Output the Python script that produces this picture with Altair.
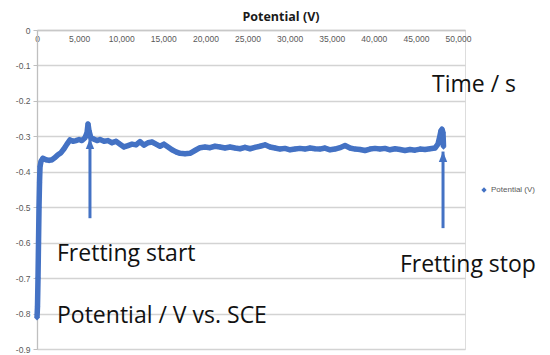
import altair as alt
import pandas as pd

# ---- data ----
time_s = [0, 60, 120, 180, 240, 300, 360, 480, 700, 1070, 1430, 1780, 2140, 2490,
          2850, 3210, 3560, 3920, 4280, 4630, 4990, 5340, 5700, 5940, 6060, 6180,
          6410, 6770, 7130, 7480, 7960, 8430, 8910, 9380, 9860, 10330, 10810, 11280,
          11760, 12230, 12710, 13180, 13660, 14130, 14610, 15080, 15560, 16030, 16510,
          16980, 17580, 18170, 18760, 19360, 19950, 20550, 21140, 21730, 22330, 22920,
          23510, 24110, 24700, 25300, 25890, 26480, 27080, 27670, 28270, 28860, 29450,
          30050, 30640, 31230, 31830, 32420, 33020, 33610, 34200, 34800, 35390, 35980,
          36580, 37170, 37770, 38360, 38950, 39550, 40140, 40730, 41330, 41920, 42520,
          43110, 43700, 44300, 44890, 45490, 46080, 46670, 47270, 47620, 47860, 47980,
          48100, 48220, 48280]
potential_v = [-0.812, -0.78, -0.70, -0.60, -0.50, -0.43, -0.385, -0.370, -0.362, -0.366,
               -0.368, -0.366, -0.360, -0.352, -0.346, -0.335, -0.322, -0.310, -0.314,
               -0.312, -0.309, -0.312, -0.304, -0.290, -0.265, -0.285, -0.305, -0.308,
               -0.312, -0.309, -0.314, -0.312, -0.318, -0.314, -0.322, -0.330, -0.326,
               -0.322, -0.324, -0.315, -0.325, -0.318, -0.316, -0.322, -0.328, -0.322,
               -0.330, -0.338, -0.344, -0.348, -0.349, -0.348, -0.340, -0.332, -0.330,
               -0.332, -0.328, -0.330, -0.333, -0.330, -0.333, -0.335, -0.331, -0.335,
               -0.331, -0.328, -0.324, -0.330, -0.333, -0.336, -0.334, -0.338, -0.336,
               -0.334, -0.336, -0.333, -0.335, -0.336, -0.333, -0.338, -0.336, -0.332,
               -0.326, -0.333, -0.336, -0.337, -0.340, -0.336, -0.334, -0.336, -0.334,
               -0.338, -0.335, -0.337, -0.340, -0.337, -0.339, -0.336, -0.337, -0.335,
               -0.333, -0.322, -0.298, -0.284, -0.280, -0.290, -0.330]
series_name = "Potential (V)"

x_ticks = [0, 5000, 10000, 15000, 20000, 25000, 30000, 35000, 40000, 45000, 50000]
y_ticks = [0, -0.1, -0.2, -0.3, -0.4, -0.5, -0.6, -0.7, -0.8, -0.9]

# annotations (data space)
arrow_time = [6290, 48220]
arrow_bottom = [-0.531, -0.559]
arrow_tip = [-0.306, -0.343]

label_text = ["Time / s", "Fretting start", "Fretting stop", "Potential / V vs. SCE"]
label_time = [46910, 2375, 43100, 2375]
label_value = [-0.176, -0.653, -0.684, -0.828]

BLUE = "#4472C4"

df = pd.DataFrame({"t": time_s, "v": potential_v, "series": series_name})
arrows = pd.DataFrame({"t": arrow_time, "y0": arrow_bottom, "y1": arrow_tip})
labels = pd.DataFrame({"t": label_time, "v": label_value, "txt": label_text})

xscale = alt.Scale(domain=[0, 50830], nice=False, zero=False)
yscale = alt.Scale(domain=[-0.9, 0], nice=False, zero=False)
xaxis = alt.Axis(orient="bottom", offset=-319, values=x_ticks, format=",d",
                 labelFontSize=8.5, labelColor="#595959", labelFont="Liberation Sans",
                 ticks=False, domainColor="#C8C8C8", domainWidth=1.5, grid=False,
                 labelPadding=4, labelFlush=False, labelOverlap=False, title=None)
yaxis = alt.Axis(values=y_ticks,
                 labelExpr="datum.value == 0 ? '0' : '-' + format(abs(datum.value), '.1f')",
                 grid=True, gridColor="#D3D3D3", gridWidth=1.3,
                 domainColor="#BFBFBF", domainWidth=1.3, tickColor="#BFBFBF", tickSize=4,
                 labelFontSize=8.5, labelColor="#595959", labelFont="Liberation Sans",
                 labelPadding=3, title=None)

X = lambda f: alt.X(f, type="quantitative", scale=xscale, axis=xaxis)
Y = lambda f: alt.Y(f, type="quantitative", scale=yscale, axis=yaxis)

line = alt.Chart(df).mark_line(color=BLUE, strokeWidth=5.5, strokeJoin="round").encode(
    x=X("t"), y=Y("v"), order="t:Q")

pts = alt.Chart(df).mark_point(shape="diamond", filled=True, size=30, opacity=1).encode(
    x=X("t"), y=Y("v"),
    color=alt.Color("series:N", scale=alt.Scale(range=[BLUE]),
                    legend=alt.Legend(title=None, orient="none", legendX=443, legendY=156,
                                      symbolType="diamond", symbolSize=28,
                                      labelFontSize=8, labelColor="#595959",
                                      labelFont="Liberation Sans", labelOffset=3)))

shaft = alt.Chart(arrows).mark_rule(color=BLUE, strokeWidth=3).encode(
    x=X("t"), y=Y("y0"), y2="y1")

heads = alt.Chart(arrows).mark_point(shape="M0,0L0.8,2L-0.8,2Z", filled=True,
                                     color=BLUE, size=110, opacity=1).encode(
    x=X("t"), y=Y("y1"))

texts = alt.Chart(labels).mark_text(align="left", baseline="alphabetic", font="Open Sans",
                                    fontSize=23, color="#111111").encode(
    x=X("t"), y=Y("v"), text="txt:N")

chart = alt.layer(line, pts, shaft, heads, texts).properties(
    width=428, height=319,
    autosize=alt.AutoSizeParams(type="none"),
    padding={"left": 29, "top": 22, "right": 77, "bottom": 5},
    title=alt.TitleParams(series_name, fontSize=12.5, fontWeight="bold", font="Open Sans",
                          color="#1a1a1a", dx=30, offset=3, anchor="middle"),
).configure_view(stroke=None).configure(background="white")

chart.save("out.html", embed_options={"renderer": "svg", "actions": False})
